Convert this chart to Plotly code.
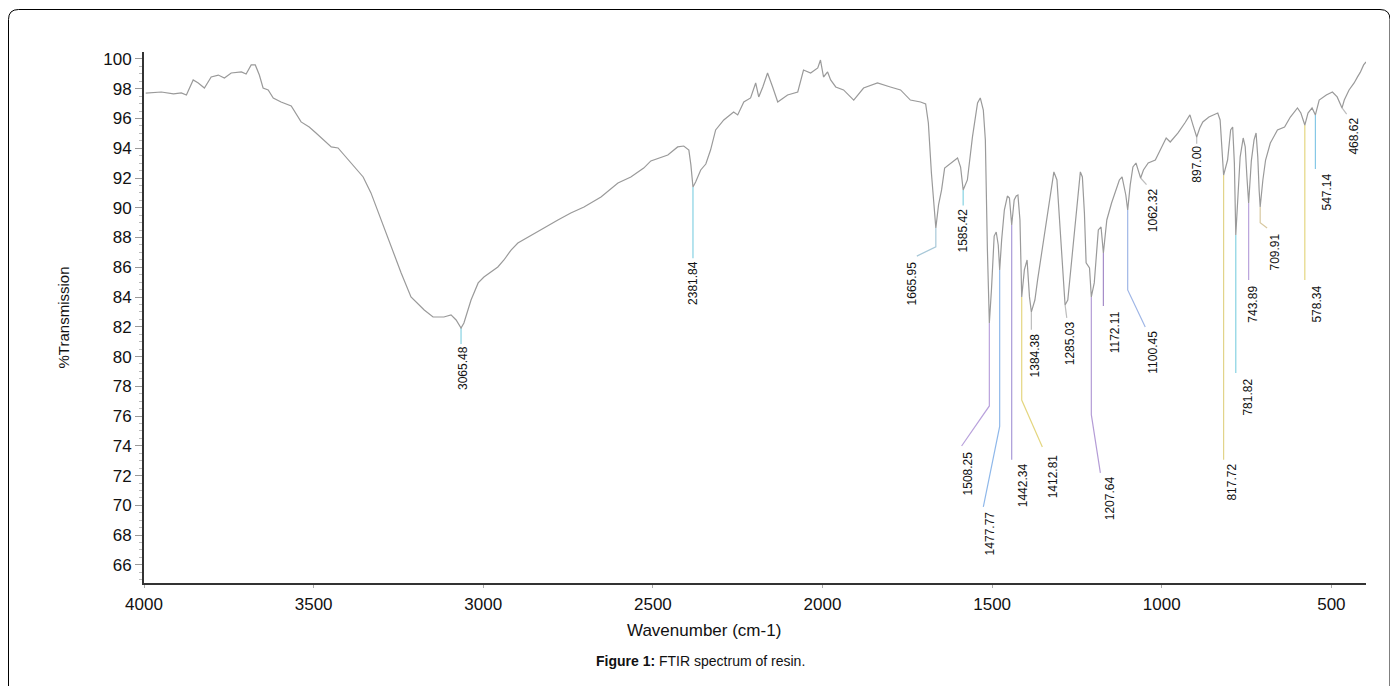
import numpy as np
import plotly.graph_objects as go

# ---------------- data ----------------
wavenumber = [
    3995, 3978, 3949, 3913, 3890, 3875, 3855, 3840, 3822, 3802, 3781, 3763, 3743, 3713, 3699,
    3684, 3672, 3660, 3649, 3634, 3619, 3596, 3566, 3537, 3513, 3493, 3472, 3448, 3428, 3389,
    3354, 3331, 3301, 3272, 3242, 3213, 3174, 3148, 3116, 3095, 3080, 3065.48, 3057, 3036, 3015,
    2998, 2957, 2939, 2918, 2898, 2859, 2821, 2780, 2742, 2703, 2653, 2603, 2565, 2527, 2506,
    2456, 2427, 2409, 2394, 2388, 2381.84, 2374, 2359, 2344, 2330, 2315, 2291, 2262, 2250, 2232,
    2212, 2197, 2188, 2176, 2162, 2147, 2132, 2103, 2073, 2056, 2035, 2014, 2006, 1997, 1985,
    1976, 1961, 1938, 1908, 1879, 1838, 1800, 1770, 1741, 1711, 1696, 1688, 1679, 1670, 1665.95,
    1658, 1649, 1640, 1602, 1593, 1585.42, 1573, 1558, 1543, 1535, 1526, 1520, 1514, 1508.25, 1502,
    1494, 1488, 1482, 1477.77, 1472, 1464, 1455, 1449, 1442.34, 1435, 1429, 1424, 1418, 1412.81, 1405,
    1397, 1390, 1384.38, 1374, 1366, 1347, 1332, 1318, 1309, 1297, 1285.03, 1277, 1264, 1249, 1240,
    1234, 1228, 1223, 1213, 1207.64, 1199, 1187, 1179, 1172.11, 1162, 1148, 1125, 1117, 1106, 1100.45,
    1093, 1085, 1076, 1068, 1062.32, 1054, 1040, 1019, 1001, 987, 975, 952, 932, 917, 908,
    897.00, 888, 879, 861, 835, 828, 822, 817.72, 806, 797, 791, 786, 781.82, 774, 769,
    760, 754, 749, 743.89, 736, 728, 722, 717, 713, 709.91, 702, 694, 680, 659, 638,
    621, 600, 590, 578.34, 569, 557, 547.14, 536, 515, 497, 483, 468.62, 462, 448, 433,
    423, 415, 405, 398,
]
transmission = [
    97.70, 97.72, 97.78, 97.65, 97.72, 97.58, 98.59, 98.39, 98.05, 98.79, 98.92, 98.72, 99.06, 99.13, 98.99,
    99.60, 99.60, 98.92, 98.05, 97.92, 97.38, 97.11, 96.84, 95.77, 95.43, 95.03, 94.56, 94.09, 94.02, 93.01,
    92.07, 91.00, 89.18, 87.37, 85.62, 84.01, 83.13, 82.66, 82.66, 82.80, 82.46, 81.92, 82.26, 83.80, 84.95,
    85.35, 86.02, 86.49, 87.16, 87.63, 88.17, 88.64, 89.18, 89.65, 90.05, 90.73, 91.67, 92.07, 92.67, 93.15,
    93.55, 94.09, 94.15, 93.88, 92.88, 91.40, 91.73, 92.54, 92.94, 93.88, 95.23, 95.90, 96.44, 96.24, 97.11,
    97.38, 98.39, 97.45, 98.12, 99.06, 98.12, 97.11, 97.58, 97.78, 99.26, 99.06, 99.40, 99.93, 98.79, 99.13,
    98.59, 98.12, 97.92, 97.24, 98.05, 98.39, 98.12, 97.92, 97.24, 97.11, 96.98, 95.70, 92.34, 89.52, 88.64,
    90.19, 91.20, 92.67, 93.35, 92.74, 91.20, 91.87, 94.76, 97.04, 97.38, 96.57, 94.56, 87.20, 82.26, 84.50,
    88.10, 88.37, 87.50, 85.82, 87.84, 89.85, 90.79, 90.66, 88.84, 90.52, 90.79, 90.86, 89.18, 84.01, 85.82,
    86.49, 84.01, 83.00, 83.80, 85.15, 88.04, 90.32, 92.41, 91.87, 87.84, 83.47, 83.80, 86.69, 90.32, 92.41,
    92.07, 89.65, 86.30, 85.95, 84.01, 84.95, 88.51, 88.71, 86.96, 89.18, 90.32, 91.87, 92.07, 90.86, 89.85,
    91.54, 92.74, 93.01, 92.41, 92.00, 92.54, 93.01, 93.21, 94.09, 94.69, 94.42, 95.03, 95.70, 96.24, 95.56,
    94.76, 95.36, 95.77, 96.10, 96.37, 95.90, 93.88, 92.20, 93.21, 95.23, 95.43, 93.00, 88.17, 91.20, 93.41,
    94.69, 94.09, 92.07, 90.32, 93.15, 94.56, 95.03, 93.41, 91.20, 90.05, 91.87, 93.21, 94.35, 95.23, 95.43,
    96.10, 96.71, 96.37, 95.56, 96.37, 96.71, 96.24, 97.24, 97.58, 97.78, 97.45, 96.71, 97.24, 97.92, 98.39,
    98.80, 99.10, 99.60, 99.80,
]

peak_labels = ["3065.48", "2381.84", "1665.95", "1585.42", "1508.25", "1477.77", "1442.34",
               "1412.81", "1384.38", "1285.03", "1207.64", "1172.11", "1100.45", "1062.32",
               "897.00", "817.72", "781.82", "743.89", "709.91", "578.34", "547.14", "468.62"]
peak_wn = [float(s) for s in peak_labels]

x_ticks = [4000, 3500, 3000, 2500, 2000, 1500, 1000, 500]
y_ticks = list(range(66, 101, 2))

# ---------------- label placement (layout, not data) ----------------
# (label centre wavenumber, label top %T, extra leader vertices, leader colour)
label_layout = [
    (3059.6, 80.78, [(3065.48, 80.85)], "#86d2e2"),
    (2382.0, 86.49, [(2381.84, 86.60)], "#86d2e2"),
    (1735.0, 86.49, [(1665.95, 87.37), (1722, 86.75)], "#a8c8d8"),
    (1584.5, 90.05, [(1585.42, 90.15)], "#86d2e2"),
    (1569.8, 73.72, [(1508.25, 76.68), (1590, 73.99)], "#b9a2dc"),
    (1505.0, 69.69, [(1477.77, 75.30), (1526, 69.89)], "#8fb8ea"),
    (1410.8, 72.92, [(1442.34, 73.06)], "#a99ad8"),
    (1319.5, 73.52, [(1412.81, 77.08), (1352, 73.92)], "#e4d680"),
    (1372.5, 81.65, [(1384.38, 81.80)], "#bdbdbd"),
    (1269.5, 82.46, [(1280.0, 82.60)], "#bdbdbd"),
    (1151.8, 72.04, [(1207.64, 76.10), (1181, 72.18)], "#b49cd6"),
    (1137.0, 83.13, [(1172.11, 83.40)], "#a48cc8"),
    (1025.1, 81.79, [(1100.45, 84.48), (1048.7, 81.99)], "#9fb6e6"),
    (1025.1, 91.40, [(1045.0, 91.55)], "#bdbdbd"),
    (895.5, 94.22, [(897.0, 94.30)], "#bdbdbd"),
    (792.6, 72.85, [(817.72, 73.06)], "#e2d48a"),
    (745.4, 78.56, [(781.82, 78.90)], "#86d2e2"),
    (730.6, 84.81, [(743.89, 85.15)], "#b9a2dc"),
    (666.0, 88.31, [(709.91, 89.00), (689.5, 88.64)], "#d8c8a0"),
    (542.2, 84.81, [(578.34, 85.15)], "#e4d680"),
    (512.8, 92.34, [(547.14, 92.60)], "#86c8e6"),
    (436.2, 96.10, [(455.0, 96.30)], "#bdbdbd"),
]

# ---------------- figure ----------------
fig = go.Figure()

wn_inc = np.array(wavenumber)[::-1]
t_inc = np.array(transmission)[::-1]
peak_T = np.interp(peak_wn, wn_inc, t_inc)

annotations = []
for (lab, pw, pt, (lx, ly, pts, col)) in zip(peak_labels, peak_wn, peak_T, label_layout):
    xs = [pw] + [p[0] for p in pts]
    ys = [pt] + [p[1] for p in pts]
    fig.add_trace(go.Scatter(x=xs, y=ys, mode="lines",
                             line=dict(color=col, width=1.2),
                             hoverinfo="skip", showlegend=False))
    annotations.append(dict(x=lx, y=ly, xref="x", yref="y", text=lab, textangle=-90,
                            showarrow=False, xanchor="center", yanchor="top",
                            font=dict(size=12, color="#111111"), borderpad=0))

fig.add_trace(go.Scatter(x=wavenumber, y=transmission, mode="lines",
                         line=dict(color="#9a9a9a", width=1.2),
                         hoverinfo="skip", showlegend=False))

# figure is placed 8px in from the page corner (body margin)
W, H = 1390, 678
L, R, T, B = 136, 1358, 44, 575
def px(xp):
    return (xp - L) / (R - L)
def py(yp):
    return (B - yp) / (B - T)

# x-axis title and caption (positioned as in the reference)
annotations.append(dict(x=px(696), y=py(622), xref="paper", yref="paper",
                        text="Wavenumber (cm-1)", showarrow=False,
                        xanchor="center", yanchor="middle",
                        font=dict(size=17, color="#111111")))
annotations.append(dict(x=px(692), y=py(653), xref="paper", yref="paper",
                        text="<b>Figure 1:</b> FTIR spectrum of resin.",
                        showarrow=False, xanchor="center", yanchor="middle",
                        font=dict(size=14, color="#111111")))

# rounded frame around the whole figure
x0, x1, yt, yb = px(0.5), px(1382), py(1.5), py(720)
rx, ry = 10 / (R - L), 10 / (B - T)
frame = (f"M {x0},{yb} L {x0},{yt - ry} Q {x0},{yt} {x0 + rx},{yt} "
         f"L {x1 - rx},{yt} Q {x1},{yt} {x1},{yt - ry} L {x1},{yb}")

fig.update_layout(
    width=W, height=H,
    margin=dict(l=L, r=W - R, t=T, b=H - B),
    paper_bgcolor="white", plot_bgcolor="white",
    font=dict(family="Arial, Liberation Sans, sans-serif", color="#111111"),
    showlegend=False,
    annotations=annotations,
    shapes=[dict(type="path", path=frame, xref="paper", yref="paper",
                 line=dict(color="#000000", width=1))],
    xaxis=dict(range=[4000, 398], tickvals=x_ticks, ticktext=[str(v) for v in x_ticks],
               showgrid=False, zeroline=False, showline=True, linecolor="#333333",
               linewidth=2, ticks="outside", ticklen=3, tickcolor="#aaaaaa",
               tickfont=dict(size=17), ticklabelstandoff=2, automargin=False),
    yaxis=dict(range=[64.78, 100.47], tickvals=y_ticks,
               showgrid=False, zeroline=False, showline=True, linecolor="#333333",
               linewidth=2, ticks="outside", ticklen=7, tickcolor="#999999",
               tickfont=dict(size=17), automargin=False,
               minor=dict(dtick=0.5, tick0=66, ticks="outside", ticklen=3, tickcolor="#bbbbbb"),
               title=dict(text="%Transmission", font=dict(size=15), standoff=30)),
)

fig.write_html("out.html")
